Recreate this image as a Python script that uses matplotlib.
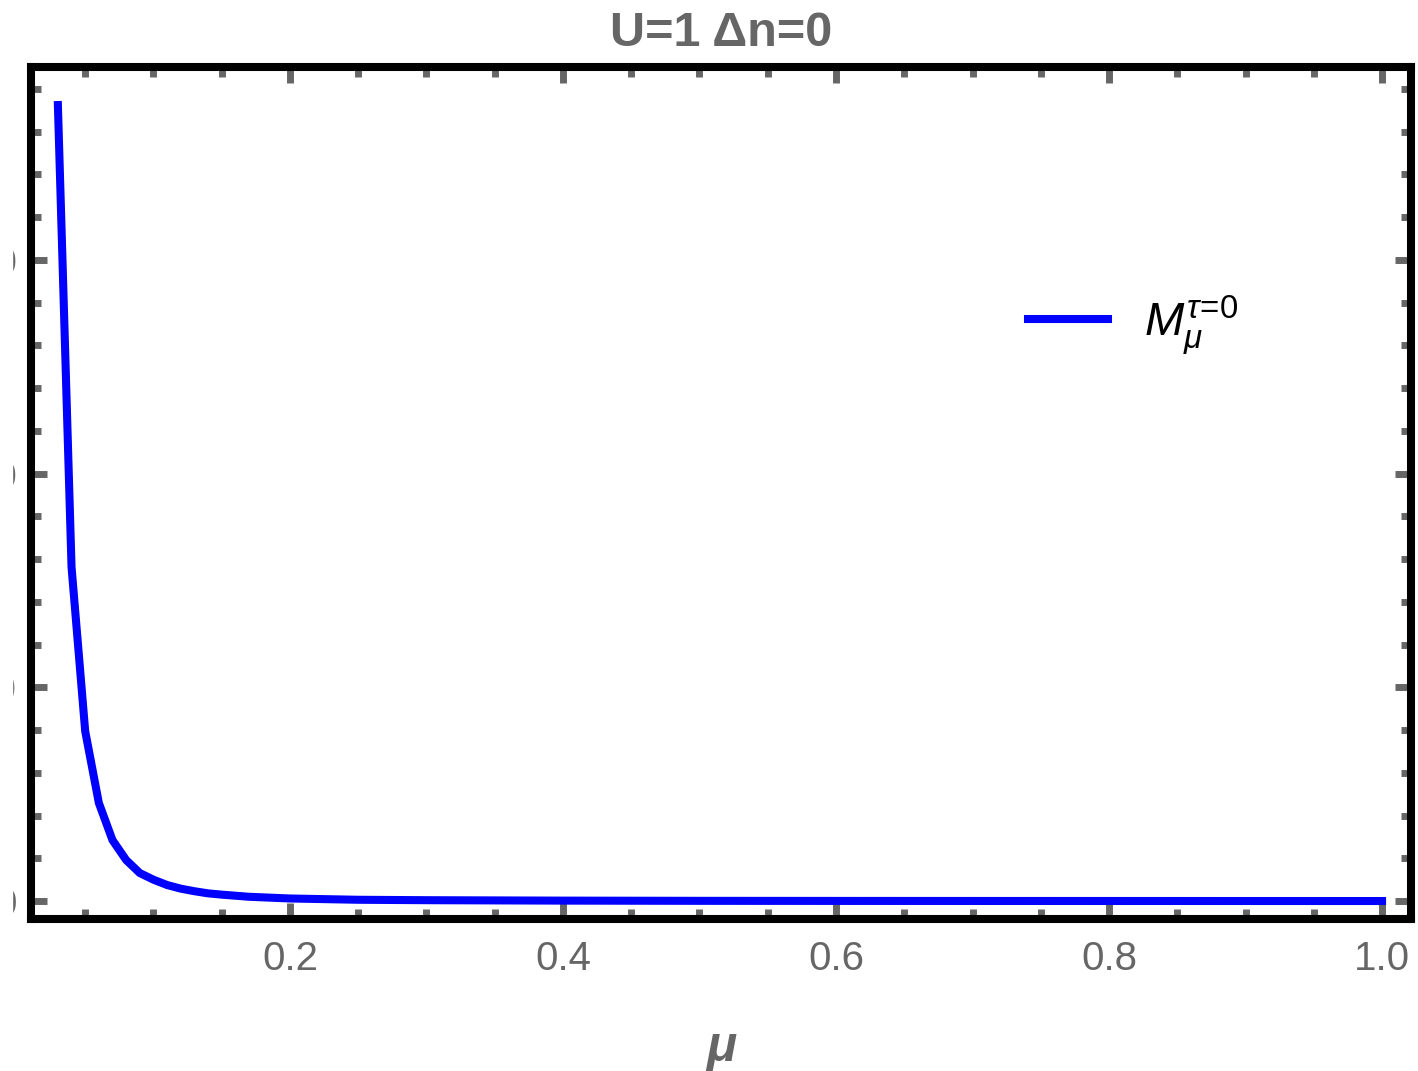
import matplotlib
matplotlib.use("Agg")
import matplotlib.pyplot as plt
from matplotlib.ticker import MultipleLocator
from matplotlib.patches import Rectangle

# ---- data ----
mu = [0.03, 0.04, 0.05, 0.06, 0.07, 0.08, 0.09, 0.10, 0.11, 0.12, 0.13,
      0.14, 0.15, 0.17, 0.20, 0.25, 0.30, 0.40, 0.50, 0.60, 0.70, 0.80,
      0.90, 1.00]
M = [3725, 1563, 795, 459, 285, 192, 131, 100, 75, 58, 46,
     36, 30, 20, 12, 6, 4, 2, 1, 0.6, 0.4, 0.3, 0.2, 0.1]
x_major = [0.2, 0.4, 0.6, 0.8, 1.0]
x_labels = ["0.2", "0.4", "0.6", "0.8", "1.0"]
y_major = [0, 1000, 2000, 3000]
y_labels = ["0", "1000", "2000", "3000"]
title = "U=1 Δn=0"
xlabel = "μ"
legend_label = r"$M_{\mu}^{\tau\!=\!0}$"

GRAY = "#666666"
plt.rcParams["font.family"] = ["Liberation Sans", "DejaVu Sans"]
plt.rcParams["mathtext.fontset"] = "custom"
plt.rcParams["mathtext.rm"] = "Liberation Sans"
plt.rcParams["mathtext.it"] = "Liberation Sans:italic"
plt.rcParams["mathtext.bf"] = "Liberation Sans:bold"

fig = plt.figure(figsize=(14.18, 10.71), dpi=100)
ax = fig.add_axes([31/1418, 1-919/1071, 1380/1418, 852/1071])

ax.plot(mu, M, color="#0000ff", lw=5.8, label=legend_label, solid_joinstyle="miter")

ax.set_xlim(0.0103, 1.0212)
ax.set_ylim(-84, 3903)

ax.set_xticks(x_major)
ax.set_xticklabels(x_labels)
ax.set_yticks(y_major)
ax.set_yticklabels(y_labels)
ax.xaxis.set_minor_locator(MultipleLocator(0.05))
ax.yaxis.set_minor_locator(MultipleLocator(200))

for s in ax.spines.values():
    s.set_linewidth(5.8)
    s.set_color("black")

ax.tick_params(which="both", direction="in", top=True, right=True,
               color=GRAY, labelcolor=GRAY, labelsize=29)
ax.tick_params(which="major", length=11.5, width=5)
ax.tick_params(which="minor", length=7, width=5)
ax.tick_params(axis="x", which="major", pad=15)
ax.tick_params(axis="y", which="major", pad=10)

ax.set_title(title, fontsize=35, fontweight="bold", color=GRAY, pad=15)
ax.set_xlabel(xlabel, fontsize=36, fontweight="bold", fontstyle="italic",
              color=GRAY, labelpad=34)

leg = ax.legend(loc="center left", bbox_to_anchor=(0.7225, 0.697),
                frameon=False, fontsize=34, handlelength=1.7,
                handletextpad=0.75, borderpad=0, borderaxespad=0)

fig.patches.append(Rectangle((0, 0), 12/1418, 1, transform=fig.transFigure,
                             color="white", zorder=10))

fig.savefig("out.png", dpi=100, facecolor="white")
